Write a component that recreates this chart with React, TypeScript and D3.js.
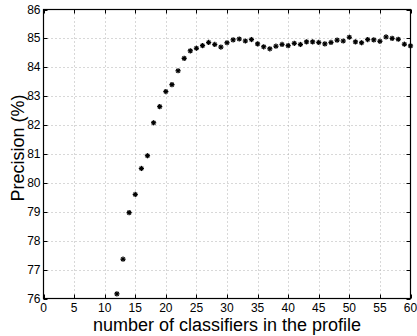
import React, { useEffect, useRef } from 'react';
import * as d3 from 'd3';

// number of classifiers in the profile
const classifiers = [
  12, 13, 14, 15, 16, 17, 18, 19, 20, 21, 22, 23, 24, 25, 26, 27, 28, 29, 30,
  31, 32, 33, 34, 35, 36, 37, 38, 39, 40, 41, 42, 43, 44, 45, 46, 47, 48, 49,
  50, 51, 52, 53, 54, 55, 56, 57, 58, 59, 60,
];
// precision (%)
const precision = [
  76.16, 77.36, 78.97, 79.6, 80.5, 80.94, 82.08, 82.64, 83.16, 83.4, 83.88,
  84.31, 84.57, 84.66, 84.75, 84.86, 84.79, 84.7, 84.85, 84.95, 84.98, 84.91,
  84.96, 84.81, 84.71, 84.64, 84.73, 84.79, 84.75, 84.83, 84.79, 84.88, 84.88,
  84.86, 84.81, 84.86, 84.94, 84.91, 85.04, 84.88, 84.85, 84.96, 84.95, 84.9,
  85.05, 85.0, 84.97, 84.8, 84.74,
];
const xTicks = [0, 5, 10, 15, 20, 25, 30, 35, 40, 45, 50, 55, 60];
const yTicks = [76, 77, 78, 79, 80, 81, 82, 83, 84, 85, 86];

const App = () => {
  const svgRef = useRef<SVGSVGElement>(null);

  useEffect(() => {
    const svg = d3.select(svgRef.current);
    svg.selectAll('*').remove();

    const width = 417;
    const height = 336;
    const left = 43.5;
    const right = 410.5;
    const top = 9.5;
    const bottom = 298.5;
    const font = 'Liberation Sans, Arial, Helvetica, sans-serif';

    svg.attr('width', width).attr('height', height);

    const x = d3.scaleLinear().domain([0, 60]).range([left, right]);
    const y = d3.scaleLinear().domain([76, 86]).range([bottom, top]);

    svg.append('rect')
      .attr('width', width)
      .attr('height', height)
      .attr('fill', '#fff');

    // dotted grid
    const grid = svg.append('g')
      .attr('stroke', '#b0b0b0')
      .attr('stroke-width', 1)
      .attr('stroke-dasharray', '1,3');
    grid.selectAll('.gx')
      .data(xTicks.slice(1, -1))
      .enter()
      .append('line')
      .attr('x1', d => Math.round(x(d)) + 0.5)
      .attr('x2', d => Math.round(x(d)) + 0.5)
      .attr('y1', top)
      .attr('y2', bottom);
    grid.selectAll('.gy')
      .data(yTicks.slice(1, -1))
      .enter()
      .append('line')
      .attr('y1', d => Math.round(y(d)) + 0.5)
      .attr('y2', d => Math.round(y(d)) + 0.5)
      .attr('x1', left)
      .attr('x2', right);

    // inward ticks on all four sides
    const ticks = svg.append('g').attr('stroke', '#000').attr('stroke-width', 1);
    const tl = 4;
    xTicks.forEach(t => {
      const xp = Math.round(x(t)) + 0.5;
      ticks.append('line').attr('x1', xp).attr('x2', xp).attr('y1', bottom).attr('y2', bottom - tl);
      ticks.append('line').attr('x1', xp).attr('x2', xp).attr('y1', top).attr('y2', top + tl);
    });
    yTicks.forEach(t => {
      const yp = Math.round(y(t)) + 0.5;
      ticks.append('line').attr('y1', yp).attr('y2', yp).attr('x1', left).attr('x2', left + tl);
      ticks.append('line').attr('y1', yp).attr('y2', yp).attr('x1', right).attr('x2', right - tl);
    });

    // box
    svg.append('rect')
      .attr('x', left)
      .attr('y', top)
      .attr('width', right - left)
      .attr('height', bottom - top)
      .attr('fill', 'none')
      .attr('stroke', '#000')
      .attr('stroke-width', 1.2);

    // tick labels
    svg.append('g')
      .selectAll('text')
      .data(xTicks)
      .enter()
      .append('text')
      .attr('x', d => x(d))
      .attr('y', bottom + 13)
      .attr('text-anchor', 'middle')
      .attr('font-family', font)
      .attr('font-size', 12)
      .text(d => d);
    svg.append('g')
      .selectAll('text')
      .data(yTicks)
      .enter()
      .append('text')
      .attr('x', left - 3)
      .attr('y', d => y(d) + 4)
      .attr('text-anchor', 'end')
      .attr('font-family', font)
      .attr('font-size', 12)
      .text(d => d);

    // axis labels
    svg.append('text')
      .attr('x', 227)
      .attr('y', 331)
      .attr('text-anchor', 'middle')
      .attr('font-family', font)
      .attr('font-size', 18)
      .text('number of classifiers in the profile');
    svg.append('text')
      .attr('transform', `translate(24, 148) rotate(-90)`)
      .attr('text-anchor', 'middle')
      .attr('font-family', font)
      .attr('font-size', 18)
      .text('Precision (%)');

    // asterisk markers
    const r = 2.6;
    const star = svg.append('g').attr('stroke', '#000').attr('stroke-width', 1.3);
    classifiers.forEach((c, i) => {
      const g = star.append('g').attr('transform', `translate(${x(c)}, ${y(precision[i])})`);
      [0, 45, 90, 135].forEach(a => {
        const rad = (a * Math.PI) / 180;
        g.append('line')
          .attr('x1', -r * Math.cos(rad))
          .attr('y1', -r * Math.sin(rad))
          .attr('x2', r * Math.cos(rad))
          .attr('y2', r * Math.sin(rad));
      });
    });
  }, []);

  return <svg ref={svgRef} style={{ position: 'absolute', left: 0, top: 0 }}></svg>;
};

export default App;
